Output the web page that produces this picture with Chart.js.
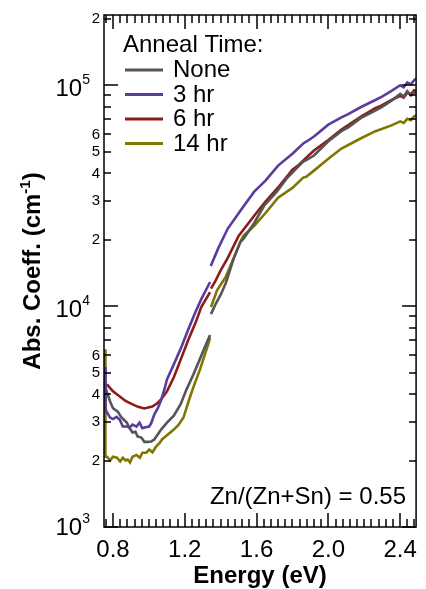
<!DOCTYPE html>
<html>
<head>
<meta charset="utf-8">
<script src="https://cdn.jsdelivr.net/npm/chart.js@4.4.1/dist/chart.umd.min.js"></script>
<style>
  html, body { margin: 0; padding: 0; background: #ffffff; }
  #wrap { width: 426px; height: 589px; position: relative; }
</style>
</head>
<body>
<div id="wrap"><canvas id="c" width="426" height="589"></canvas></div>
<script>
// ---------------- data ----------------
const seriesLabels = ['None', '3 hr', '6 hr', '14 hr'];
const seriesColors = ['#555555', '#5b3c9c', '#8c1c1c', '#807600'];

const noneE = [0.757, 0.767, 0.784, 0.800, 0.827, 0.845, 0.862, 0.877, 0.893, 0.909, 0.925, 0.937, 0.958, 0.975, 0.991, 1.013, 1.030, 1.057, 1.068, 1.101, 1.139, 1.177, 1.210, 1.248, 1.286, 1.318, 1.341, 1.343, 1.346, 1.374, 1.401, 1.430, 1.470, 1.510, 1.527, 1.587, 1.642, 1.713, 1.767, 1.820, 1.860, 1.877, 1.920, 2.000, 2.073, 2.111, 2.180, 2.259, 2.297, 2.350, 2.401, 2.420, 2.440, 2.460, 2.478, 2.494];
const noneA = [4300, 4070, 3700, 3450, 3330, 3150, 3050, 2970, 2800, 2680, 2700, 2570, 2540, 2430, 2430, 2440, 2490, 2680, 2760, 2970, 3190, 3600, 4200, 4900, 5800, 6700, 7400, null, 9200, 10300, 11300, 12800, 16200, 19540, 20170, 23800, 28480, 32970, 37770, 41800, 45130, 45800, 48060, 55800, 62000, 64500, 71000, 76500, 79500, 85000, 91500, 89000, 94000, 90000, 93000, 92500];

const hr3E = [0.756, 0.759, 0.767, 0.784, 0.800, 0.820, 0.838, 0.855, 0.877, 0.893, 0.909, 0.931, 0.948, 0.964, 0.975, 1.002, 1.013, 1.030, 1.050, 1.068, 1.085, 1.101, 1.139, 1.183, 1.221, 1.259, 1.292, 1.341, 1.343, 1.345, 1.385, 1.439, 1.510, 1.587, 1.650, 1.720, 1.800, 1.860, 1.877, 1.920, 2.000, 2.073, 2.111, 2.180, 2.259, 2.297, 2.350, 2.401, 2.420, 2.440, 2.460, 2.478, 2.494];
const hr3A = [5300, 3400, 3300, 3130, 3080, 3150, 3060, 2850, 2850, 2820, 2910, 2850, 2970, 2800, 2820, 2850, 2950, 3230, 3450, 3750, 4150, 4660, 5450, 6580, 7900, 9390, 10760, 12860, null, 15200, 18160, 22390, 27000, 32970, 37000, 43290, 49000, 54500, 55500, 58630, 66300, 71500, 74000, 79500, 85500, 88500, 94000, 100000, 98000, 103000, 101000, 105400, 107600];

const hr6E = [0.767, 0.784, 0.800, 0.838, 0.870, 0.909, 0.940, 0.975, 1.019, 1.045, 1.068, 1.101, 1.139, 1.180, 1.221, 1.260, 1.292, 1.341, 1.343, 1.346, 1.368, 1.400, 1.439, 1.500, 1.587, 1.650, 1.729, 1.800, 1.838, 1.877, 1.920, 2.000, 2.073, 2.111, 2.180, 2.259, 2.297, 2.350, 2.400, 2.420, 2.440, 2.460, 2.478, 2.494];
const hr6A = [4420, 4250, 4120, 3900, 3720, 3590, 3500, 3440, 3510, 3620, 3780, 4110, 4760, 5800, 7080, 8400, 9900, 11580, null, 12000, 12860, 14500, 16500, 20800, 25650, 29700, 35120, 41500, 43800, 47000, 50640, 56500, 63000, 66000, 72000, 78630, 81000, 85500, 89500, 88000, 92500, 91000, 94900, 94000];

const hr14E = [0.756, 0.758, 0.767, 0.784, 0.800, 0.822, 0.840, 0.855, 0.870, 0.882, 0.895, 0.909, 0.931, 0.950, 0.964, 0.986, 1.002, 1.020, 1.040, 1.060, 1.073, 1.101, 1.139, 1.165, 1.193, 1.221, 1.248, 1.286, 1.330, 1.341, 1.343, 1.346, 1.380, 1.428, 1.470, 1.510, 1.527, 1.587, 1.650, 1.720, 1.800, 1.860, 1.877, 1.920, 2.000, 2.073, 2.180, 2.259, 2.352, 2.401, 2.420, 2.440, 2.460, 2.478, 2.494];
const hr14A = [6380, 2080, 2080, 2000, 2080, 2060, 1980, 2060, 2000, 2020, 1960, 2080, 2120, 2060, 2170, 2170, 2240, 2180, 2310, 2400, 2490, 2600, 2760, 2900, 3130, 3700, 4300, 5200, 6700, 7200, null, 9900, 11800, 13540, 16300, 19540, 20810, 23100, 26400, 31000, 34300, 38200, 38500, 41070, 46500, 51710, 57400, 61790, 65790, 68600, 67500, 70500, 69500, 72290, 73050];

// axis ranges and tick labels
const xMin = 0.75, xMax = 2.489;
const yMin = 1000, yMax = 208000;
const xTickValues = [0.8, 1.2, 1.6, 2.0, 2.4];
const xMinorStep = 0.04;
const yMajorValues = [1000, 10000, 100000];
const yMajorExponents = ['3', '4', '5'];
const yMinorLabelValues = [2000, 3000, 4000, 5000, 6000, 20000, 30000, 40000, 50000, 60000, 200000];
const yMinorLabelTexts = ['2', '3', '4', '5', '6', '2', '3', '4', '5', '6', '2'];
const xTitle = 'Energy (eV)';
const yTitleMain = 'Abs. Coeff. (cm';
const yTitleSup = '-1';
const legendTitle = 'Anneal Time:';
const annotationText = 'Zn/(Zn+Sn) = 0.55';

// ---------------- chart ----------------
const FONT = "'Liberation Sans', Arial, Helvetica, sans-serif";
const pairs = (E, A) => E.map((e, i) => ({ x: e, y: A[i] }));
const seriesE = [noneE, hr3E, hr6E, hr14E];
const seriesA = [noneA, hr3A, hr6A, hr14A];

const datasets = seriesLabels.map((lab, i) => ({
  label: lab,
  data: pairs(seriesE[i], seriesA[i]),
  borderColor: seriesColors[i],
  backgroundColor: seriesColors[i],
  borderWidth: 2.6,
  pointRadius: 0,
  tension: 0,
  spanGaps: false,
  fill: false
}));
datasets[0].order = 1; datasets[1].order = 0; datasets[2].order = 2; datasets[3].order = 3;

const decorPlugin = {
  id: 'decor',
  afterDatasetsDraw(chart) {
    const { ctx, chartArea: a, scales } = chart;
    const xs = scales.x, ys = scales.y;
    ctx.save();
    ctx.strokeStyle = '#000000';
    ctx.lineWidth = 1.5;
    ctx.strokeRect(a.left, a.top, a.right - a.left, a.bottom - a.top);

    // x ticks (inward, top and bottom)
    ctx.beginPath();
    const nMinor = Math.round((xMax - 0.76) / xMinorStep);
    for (let i = 0; i <= nMinor; i++) {
      const v = 0.76 + i * xMinorStep;
      if (v > xMax) break;
      const px = Math.round(xs.getPixelForValue(v));
      const isMajor = xTickValues.some(t => Math.abs(t - v) < 1e-6);
      const len = isMajor ? 14 : 8;
      ctx.moveTo(px, a.bottom); ctx.lineTo(px, a.bottom - len);
      ctx.moveTo(px, a.top); ctx.lineTo(px, a.top + len);
    }
    // y ticks (inward, left and right)
    for (let d = 1000; d <= 100000; d *= 10) {
      for (let m = 1; m <= 9; m++) {
        const v = d * m;
        if (v > yMax || v < yMin) continue;
        const py = Math.round(ys.getPixelForValue(v));
        const len = m === 1 ? 14 : 7;
        ctx.moveTo(a.left, py); ctx.lineTo(a.left + len, py);
        ctx.moveTo(a.right, py); ctx.lineTo(a.right - len, py);
      }
    }
    ctx.stroke();

    // y tick labels
    ctx.fillStyle = '#000';
    ctx.textAlign = 'right';
    ctx.textBaseline = 'alphabetic';
    yMajorValues.forEach((v, i) => {
      const py = ys.getPixelForValue(v);
      const expX = 90;
      ctx.font = '14px ' + FONT;
      const ew = ctx.measureText(yMajorExponents[i]).width;
      const base = Math.min(py + 11, a.bottom + 8);
      ctx.fillText(yMajorExponents[i], expX, base - 12);
      ctx.font = '24px ' + FONT;
      ctx.fillText('10', expX - ew, base);
    });
    ctx.font = '15px ' + FONT;
    ctx.textBaseline = 'middle';
    yMinorLabelValues.forEach((v, i) => {
      const py = ys.getPixelForValue(v);
      ctx.fillText(yMinorLabelTexts[i], 100, py + 0.5);
    });

    // y title (rotated, with superscript)
    ctx.save();
    const cy = (a.top + a.bottom) / 2;
    ctx.translate(40, cy);
    ctx.rotate(-Math.PI / 2);
    ctx.textAlign = 'left';
    ctx.textBaseline = 'alphabetic';
    ctx.font = 'bold 24px ' + FONT;
    const wMain = ctx.measureText(yTitleMain).width;
    const wClose = ctx.measureText(')').width;
    ctx.font = 'bold 15px ' + FONT;
    const wSup = ctx.measureText(yTitleSup).width;
    const total = wMain + wSup + wClose;
    const x0 = -total / 2;
    ctx.font = 'bold 24px ' + FONT;
    ctx.fillText(yTitleMain, x0, 0);
    ctx.font = 'bold 15px ' + FONT;
    ctx.fillText(yTitleSup, x0 + wMain, -10);
    ctx.font = 'bold 24px ' + FONT;
    ctx.fillText(')', x0 + wMain + wSup, 0);
    ctx.restore();

    // legend
    ctx.textAlign = 'left';
    ctx.textBaseline = 'alphabetic';
    ctx.font = '24px ' + FONT;
    ctx.fillStyle = '#000';
    ctx.fillText(legendTitle, 123, 52);
    chart.data.datasets.forEach((ds, i) => {
      const base = 77 + i * 24.5;
      ctx.strokeStyle = ds.borderColor;
      ctx.lineWidth = 3;
      ctx.beginPath();
      ctx.moveTo(125, base - 7);
      ctx.lineTo(163, base - 7);
      ctx.stroke();
      ctx.fillStyle = '#000';
      ctx.fillText(ds.label, 173, base);
    });

    // annotation
    ctx.textAlign = 'right';
    ctx.fillText(annotationText, 406, 504);
    ctx.restore();
  }
};

new Chart(document.getElementById('c'), {
  type: 'line',
  data: { datasets },
  options: {
    responsive: false,
    animation: false,
    devicePixelRatio: 1,
    layout: { padding: { top: 15, right: 4, left: 0, bottom: 0 } },
    plugins: { legend: { display: false }, tooltip: { enabled: false } },
    scales: {
      x: {
        type: 'linear',
        position: 'bottom',
        min: xMin,
        max: xMax,
        afterFit: s => { s.height = 62; },
        afterBuildTicks: s => { s.ticks = xTickValues.map(v => ({ value: v })); },
        grid: { display: false, drawTicks: false },
        border: { display: false },
        ticks: {
          font: { family: FONT, size: 24 },
          color: '#000',
          padding: 9,
          maxRotation: 0,
          autoSkip: false,
          callback: v => Number(v).toFixed(1)
        },
        title: {
          display: true,
          text: xTitle,
          font: { family: FONT, size: 24, weight: 'bold' },
          color: '#000',
          padding: { top: 0, bottom: -2 }
        }
      },
      y: {
        type: 'logarithmic',
        position: 'left',
        min: yMin,
        max: yMax,
        afterFit: s => { s.width = 104; },
        grid: { display: false, drawTicks: false },
        border: { display: false },
        ticks: { display: false }
      }
    }
  },
  plugins: [decorPlugin]
});
</script>
</body>
</html>
